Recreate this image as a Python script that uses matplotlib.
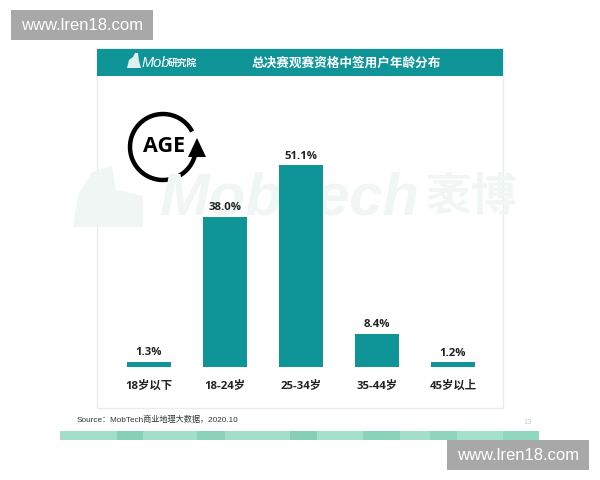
#!/usr/bin/env python3

import matplotlib
matplotlib.use('Agg')
import matplotlib.pyplot as plt
from matplotlib.patches import Polygon, Rectangle
import numpy as np

plt.rcParams['font.family'] = ['Open Sans', 'Noto Sans CJK SC', 'DejaVu Sans']

categories = ['18岁以下', '18-24岁', '25-34岁', '35-44岁', '45岁以上']
values = [1.3, 38.0, 51.1, 8.4, 1.2]

title = '总决赛观赛资格中签用户年龄分布'
source = 'Source：MobTech商业地理大数据，2020.10'
site = 'www.lren18.com'

teal = '#0F9598'
pale = '#EFF6F4'
strip_edges = [60, 117, 143, 197, 225, 290, 317, 363, 400, 430, 457, 503, 539]
strip_colors = ['#A2DEC9', '#86D0B7', '#A2DEC9', '#8AD3BA', '#A2DEC9', '#84CFB6',
                '#A4E0CB', '#88D3BA', '#A2DEC9', '#8CD5BC', '#A4E0CB', '#90D7BF']

fig = plt.figure(figsize=(6, 4.8), dpi=100)

# background layer in pixel coordinates
bg = fig.add_axes([0, 0, 1, 1])
bg.set_xlim(0, 600)
bg.set_ylim(480, 0)
bg.axis('off')

# slide panel and header
bg.add_patch(Rectangle((97, 48), 406, 360, fc='white', ec='#E8ECEC', lw=1))
bg.add_patch(Rectangle((97, 49), 406, 27, fc=teal, ec='none'))

# pale watermark behind the bars
bg.add_patch(Polygon([(73, 227), (78, 195), (92, 172), (112, 166), (116, 190), (143, 196), (143, 227)],
                     fc=pale, ec='none'))
bg.text(160, 199, 'MobTech', fontsize=43, color=pale, style='italic', weight='bold',
        family=['Liberation Sans'], ha='left', va='center')
bg.text(426, 198, '袤博', fontsize=33, color=pale, weight='bold', ha='left', va='center',
        family=['Noto Sans CJK SC'])

# header text and logo
bg.add_patch(Polygon([(127, 68), (129, 60), (133, 57), (135, 53), (138, 53), (139, 61), (141, 68)],
                     fc='#DDF0EE', ec='none'))
bg.text(142, 63, 'Mob', fontsize=10.5, color='white', style='italic',
        family=['Liberation Sans'], ha='left', va='center')
bg.text(168, 63, '研究院', fontsize=7, color='white', style='italic', weight='bold', ha='left', va='center',
        family=['Noto Sans CJK SC'])
bg.text(346, 63, title, fontsize=9.1, color='white', weight='bold', ha='center', va='center',
        family=['Noto Sans CJK SC'])

# AGE icon
t = np.radians(np.linspace(16, 332, 120))
bg.plot(163 + 33 * np.cos(t), 147 + 33 * np.sin(t), color='black', lw=3.2, solid_capstyle='butt')
bg.add_patch(Polygon([(197, 138), (188, 157), (206, 157)], fc='black', ec='none'))
bg.text(164, 146, 'AGE', fontsize=15.5, color='black', weight='bold', ha='center', va='center')

# footer
bg.text(77, 420, source, fontsize=5.9, color='#333333', ha='left', va='center',
        family=['Liberation Sans', 'Noto Sans CJK SC'])
bg.text(528, 423, '13', fontsize=5.5, color='#C4CCCC', ha='center', va='center',
        family=['Liberation Sans'])
for i in range(len(strip_colors)):
    bg.add_patch(Rectangle((strip_edges[i], 431), strip_edges[i + 1] - strip_edges[i], 9,
                           fc=strip_colors[i], ec='none'))

# site stamps
for x0, y0 in [(11, 10), (447, 440)]:
    bg.add_patch(Rectangle((x0, y0), 142, 30, fc='#A8A8A8', ec='none'))
    bg.text(x0 + 71, y0 + 15.5, site, fontsize=12, color='white', ha='center', va='center',
            family=['Liberation Sans'])

# bars: baseline at y=367 px, 76 px between bars, 3.95 px per percent
ax = fig.add_axes([97 / 600, (480 - 367) / 480, 406 / 600, 237 / 480])
ax.patch.set_alpha(0)
ax.set_xlim(-0.684, 4.658)
ax.set_ylim(0, 60)
bars = ax.bar(range(len(values)), values, width=0.575, color=teal)
for b, v in zip(bars, values):
    ax.annotate('%.1f%%' % v, (b.get_x() + b.get_width() / 2, v), xytext=(0, 2.5),
                textcoords='offset points', ha='center', va='bottom',
                fontsize=8.2, weight='bold', color='#222222')
ax.set_xticks(range(len(values)))
ax.set_xticklabels(categories, fontsize=8.2, weight='bold', color='#222222')
ax.tick_params(axis='x', length=0, pad=15.5)
for lab in ax.get_xticklabels():
    lab.set_va('baseline')
ax.set_yticks([])
for s in ax.spines.values():
    s.set_visible(False)

plt.savefig('out.png', dpi=100)
plt.close()
